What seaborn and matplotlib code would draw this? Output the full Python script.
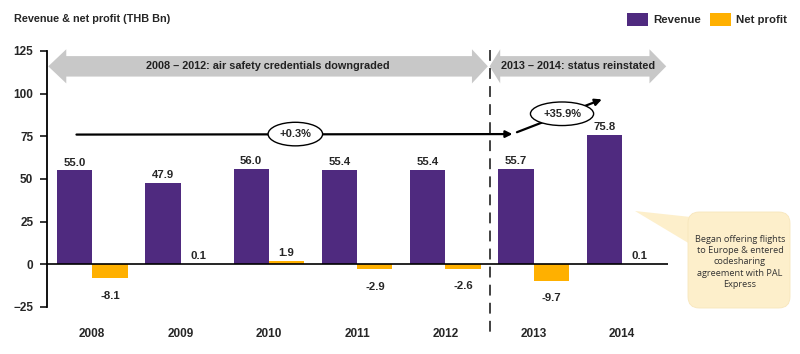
import pandas as pd
import numpy as np
import matplotlib.pyplot as plt
import seaborn as sns
from matplotlib.patches import Patch, Polygon, FancyBboxPatch

# data
years = ['2008', '2009', '2010', '2011', '2012', '2013', '2014']
revenue = [55.0, 47.9, 56.0, 55.4, 55.4, 55.7, 75.8]
net_profit = [-8.1, 0.1, 1.9, -2.9, -2.6, -9.7, 0.1]
series = ['Revenue', 'Net profit']
colors = ['#4F2A7F', '#FFB000']

df = pd.DataFrame({
    'Year': years * 2,
    'Metric': ['Revenue'] * len(years) + ['Net profit'] * len(years),
    'Value': revenue + net_profit,
})

sns.set_style('white')
plt.rcParams['font.family'] = ['Liberation Sans', 'DejaVu Sans']
plt.rcParams['font.weight'] = 'bold'

fig = plt.figure(figsize=(8, 3.54), dpi=100)
ax = fig.add_axes([0.059, 0.133, 0.776, 0.723])

sns.barplot(data=df, x='Year', y='Value', hue='Metric', hue_order=series,
            palette=colors, saturation=1, width=0.8, linewidth=0, legend=False, ax=ax)

ax.set_ylim(-25, 125)
ax.set_xlim(-0.51, 6.52)
ax.set_yticks([-25, 0, 25, 50, 75, 100, 125])
ax.set_xlabel('')
ax.set_ylabel('')
for s in ['top', 'right', 'bottom']:
    ax.spines[s].set_visible(False)
ax.spines['left'].set_linewidth(1.3)
ax.spines['left'].set_color('black')
ax.tick_params(axis='y', length=5, width=1.3, pad=5, labelsize=8.5, direction='out', left=True)
ax.tick_params(axis='x', length=0, pad=15, labelsize=8.5)
for lbl in ax.get_xticklabels() + ax.get_yticklabels():
    lbl.set_fontweight('bold')
ax.axhline(0, color='black', lw=1.2, zorder=3)

# value labels
for cont in ax.containers:
    for p in cont.patches:
        v = p.get_height()
        x = p.get_x() + p.get_width() / 2
        if v >= 0:
            ax.annotate(f'{v:.1f}', (x, v), xytext=(0, 2), textcoords='offset points',
                        ha='center', va='bottom', fontsize=8.2, fontweight='bold')
        else:
            ax.annotate(f'{v:.1f}', (x, v), xytext=(0, -9), textcoords='offset points',
                        ha='center', va='top', fontsize=8.2, fontweight='bold')

# divider
ax.plot([4.5, 4.5], [125.5, -41], color='#333333', lw=1.3, ls=(0, (6, 4)),
        clip_on=False, zorder=4)

# grey period arrows
def period_arrow(x0, h0, h1, x1, y=116, shaft=6, head=10):
    pts = [(x0, y), (h0, y + head), (h0, y + shaft), (h1, y + shaft), (h1, y + head),
           (x1, y), (h1, y - head), (h1, y - shaft), (h0, y - shaft), (h0, y - head)]
    ax.add_patch(Polygon(pts, closed=True, facecolor='#C8C8C8', edgecolor='none',
                         clip_on=False, zorder=2))

period_arrow(-0.498, -0.294, 4.30, 4.48)
period_arrow(4.50, 4.62, 6.31, 6.50)
ax.text(1.99, 116, '2008 \u2013 2012: air safety credentials downgraded', ha='center',
        va='center', fontsize=7.8, fontweight='bold', color='#222222')
ax.text(5.50, 116, '2013 \u2013 2014: status reinstated', ha='center',
        va='center', fontsize=7.8, fontweight='bold', color='#222222')

# growth arrows
ax.annotate('', xy=(4.79, 76.3), xytext=(-0.21, 76),
            arrowprops=dict(arrowstyle='-|>', color='black', lw=1.6, mutation_scale=10))
ax.annotate('', xy=(5.80, 97.2), xytext=(4.78, 76.8),
            arrowprops=dict(arrowstyle='-|>', color='black', lw=1.6, mutation_scale=10))
ax.text(2.30, 76.3, '+0.3%', ha='center', va='center', fontsize=8, fontweight='bold',
        bbox=dict(boxstyle='ellipse,pad=0.3', facecolor='white', edgecolor='black', lw=1))
ax.text(5.32, 88.2, '+35.9%', ha='center', va='center', fontsize=8, fontweight='bold',
        bbox=dict(boxstyle='ellipse,pad=0.3', facecolor='white', edgecolor='black', lw=1))

# title and legend
fig.text(0.017, 0.945, 'Revenue & net profit (THB Bn)', ha='left', va='center',
         fontsize=7.8, fontweight='bold')
handles = [Patch(facecolor=c, edgecolor='none', label=s) for c, s in zip(colors, series)]
fig.legend(handles=handles, loc='center right', bbox_to_anchor=(0.997, 0.945), ncol=2,
           frameon=False, handlelength=1.85, handleheight=1.5,
           handletextpad=0.5, columnspacing=0.75, prop={'weight': 'bold', 'size': 8.2})

# callout
W, H = 800, 354
def fx(px):
    return px / W
def fy(py):
    return 1 - py / H
box_fc = '#FDEFCB'
fig.patches.append(Polygon([(fx(635), fy(211)), (fx(700), fy(218)), (fx(700), fy(250))],
                           closed=True, facecolor=box_fc, edgecolor='none',
                           transform=fig.transFigure, figure=fig))
fig.patches.append(FancyBboxPatch((fx(688), fy(308)), fx(790) - fx(688), fy(212) - fy(308),
                                  boxstyle='round,pad=0,rounding_size=0.014',
                                  facecolor=box_fc, edgecolor='#F7E6BC', lw=0.6,
                                  transform=fig.transFigure, figure=fig, mutation_aspect=2.26))
fig.text(fx(740), fy(262), 'Began offering flights\nto Europe & entered\ncodesharing\nagreement with PAL\nExpress',
         ha='center', va='center', fontsize=6.6, fontweight='normal', linespacing=1.3,
         family=['Open Sans', 'DejaVu Sans'], color='#333333')

plt.savefig('out.png', dpi=100)
